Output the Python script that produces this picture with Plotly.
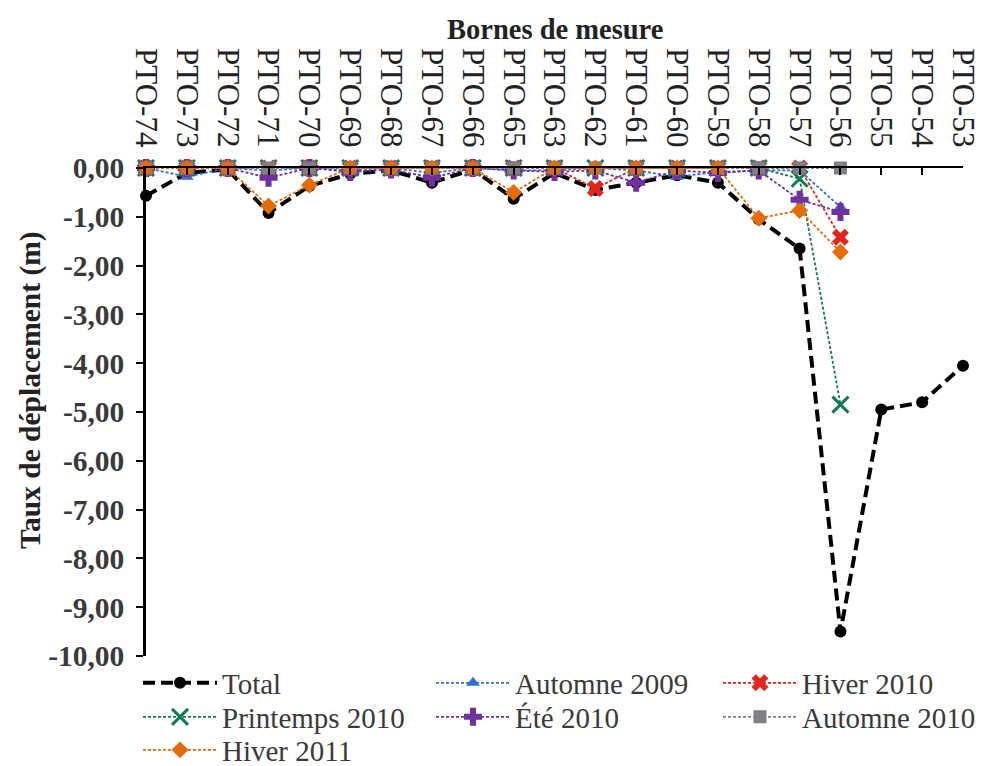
import plotly.graph_objects as go

# Measurement benchmarks, ordered along the profile
bornes = ["PTO-74", "PTO-73", "PTO-72", "PTO-71", "PTO-70", "PTO-69", "PTO-68",
          "PTO-67", "PTO-66", "PTO-65", "PTO-63", "PTO-62", "PTO-61", "PTO-60",
          "PTO-59", "PTO-58", "PTO-57", "PTO-56", "PTO-55", "PTO-54", "PTO-53"]

# Displacement (m) per survey period; None = benchmark not surveyed
total = [-0.57, -0.10, -0.03, -0.92, -0.37, -0.12, -0.05, -0.30, -0.03, -0.63, -0.10,
         -0.45, -0.30, -0.15, -0.30, -1.05, -1.65, -9.50, -4.95, -4.80, -4.05]
automne_2009 = [0, -0.18, 0, -0.05, 0, -0.05, 0, -0.10, 0, -0.05, -0.05,
                0, -0.05, -0.18, -0.08, -0.05, -0.05, -0.80, None, None, None]
hiver_2010 = [0, 0, 0, 0, 0, 0, 0, 0, 0, 0, 0,
              -0.42, 0, 0, 0, 0, 0, -1.42, None, None, None]
printemps_2010 = [0, 0, 0, 0, 0, 0, 0, 0, 0, 0, 0,
                  0, 0, 0, 0, 0, -0.22, -4.85, None, None, None]
ete_2010 = [0, 0, 0, -0.20, 0, -0.08, -0.03, -0.20, 0, -0.05, -0.08,
            -0.05, -0.30, -0.05, -0.10, -0.05, -0.65, -0.90, None, None, None]
automne_2010 = [0, 0, 0, 0, 0, 0, 0, 0, 0, 0, 0,
                0, 0, 0, 0, 0, 0, 0, None, None, None]
hiver_2011 = [0, 0, 0, -0.78, -0.35, 0, 0, 0, 0, -0.50, 0,
              0, 0, 0, 0, -1.03, -0.87, -1.72, None, None, None]

# Y axis ticks (hyphen minus, comma decimal)
y_ticks = [0, -1, -2, -3, -4, -5, -6, -7, -8, -9, -10]
y_ticktext = [f"{v:.2f}".replace(".", ",") for v in y_ticks]

FONT = "Liberation Serif"
TXT = "#3a3a3a"

# Legend slots: (column left edge px, row centre px) in a 3-column grid
legend_cols = [138, 431, 718]
legend_rows = [683, 717, 750]

series = [
    # name, values, colour, symbol, size, marker line width, (col, row)
    ("Total", total, "black", "circle", 12, None, (0, 0)),
    ("Automne 2009", automne_2009, "#2f6fd6", "triangle-up", 12, None, (1, 0)),
    ("Hiver 2010", hiver_2010, "#e3261b", "x", 15, None, (2, 0)),
    ("Printemps 2010", printemps_2010, "#137a52", "x-thin", 16, 3, (0, 1)),
    ("Été 2010", ete_2010, "#7030a0", "cross", 15, None, (1, 1)),
    ("Automne 2010", automne_2010, "#7f7f85", "square", 13, None, (2, 1)),
    ("Hiver 2011", hiver_2011, "#e46c0a", "diamond", 13, None, (0, 2)),
]

fig = go.Figure()
legends = {}
for i, (name, vals, col, sym, size, lw, (c, r)) in enumerate(series):
    key = "legend" if i == 0 else f"legend{i + 1}"
    mk = dict(symbol=sym, size=size, color=col)
    if lw:
        mk["line"] = dict(color=col, width=lw)
    if name == "Total":
        line = dict(color=col, width=4, dash="12px,6px")
    else:
        line = dict(color=col, width=1.8, dash="3px,2px")
    fig.add_trace(go.Scatter(
        x=bornes, y=vals, name=name, mode="lines+markers", legend=key,
        line=line, marker=mk, cliponaxis=False))
    legends[key] = dict(
        orientation="h", xref="container", yref="container",
        x=legend_cols[c] / 981, xanchor="left",
        y=1 - legend_rows[r] / 766, yanchor="middle",
        itemwidth=74, font=dict(family=FONT, size=29, color=TXT),
        bgcolor="rgba(0,0,0,0)", borderwidth=0)

fig.update_layout(
    width=981, height=766,
    margin=dict(l=146, r=18, t=168, b=110, autoexpand=False),
    paper_bgcolor="white", plot_bgcolor="white",
    font=dict(family=FONT, size=28, color=TXT),
    showlegend=True,
    xaxis=dict(type="category", side="top", range=[0, len(bornes) - 1],
               showline=True, linecolor="black", linewidth=1.5,
               ticks="inside", ticklen=7, tickcolor="black", tickwidth=1.5,
               tickangle=90, showgrid=False, zeroline=False, ticklabelstandoff=8,
               tickfont=dict(family=FONT, size=31, color="#222")),
    yaxis=dict(range=[-10, 0], tickvals=y_ticks, ticktext=y_ticktext,
               showline=True, linecolor="black", linewidth=2.5,
               ticks="outside", ticklen=7, tickcolor="black", tickwidth=2,
               showgrid=False, zeroline=False, ticklabelstandoff=6,
               tickfont=dict(family=FONT, size=29.5, color=TXT, weight="bold")),
    annotations=[
        dict(text="<b>Bornes de mesure</b>", xref="paper", yref="paper",
             x=0.5, y=1 + (168 - 30) / 488, xanchor="center", yanchor="middle",
             showarrow=False, font=dict(family=FONT, size=28.5, color="#222")),
        dict(text="<b>Taux de déplacement (m)</b>", xref="paper", yref="paper",
             x=(30 - 146) / 817, y=1 - (390 - 168) / 488, xanchor="center",
             yanchor="middle", showarrow=False, textangle=-90,
             font=dict(family=FONT, size=29.5, color="#222")),
    ],
    **legends,
)

fig.write_html("out.html")
